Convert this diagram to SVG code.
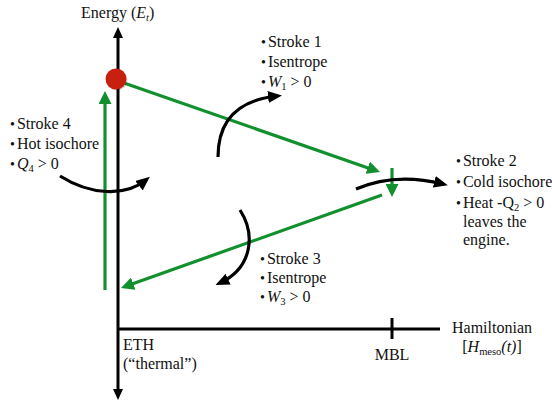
<svg xmlns="http://www.w3.org/2000/svg" width="552" height="405" viewBox="0 0 552 405">
<style>
text{font-family:"Liberation Serif","Times New Roman",serif;font-size:16px;fill:#111}
.ax{stroke:#000;stroke-width:3;fill:none}
.cv{stroke:#000;stroke-width:3.2;fill:none;marker-end:url(#ab)}
.gr{stroke:#12902e;stroke-width:3.2;fill:none;marker-end:url(#ag)}
.i{font-style:italic}
.s{font-size:10.5px}
.b{font-size:14px}
</style>
<defs>
<marker id="ab" markerUnits="userSpaceOnUse" markerWidth="14" markerHeight="12" refX="9" refY="6" orient="auto"><path d="M0,0 L14,6 L0,12 z" fill="#000"/></marker>
<marker id="aa" markerUnits="userSpaceOnUse" markerWidth="11" markerHeight="10" refX="6" refY="5" orient="auto-start-reverse"><path d="M0,0 L11,5 L0,10 z" fill="#000"/></marker>
<marker id="ag" markerUnits="userSpaceOnUse" markerWidth="13" markerHeight="13" refX="8" refY="6.5" orient="auto"><path d="M0,0 L13,6.5 L0,13 z" fill="#12902e"/></marker>
</defs>
<g id="axes">
<path class="ax" d="M118,32 L118,395" marker-start="url(#aa)" marker-end="url(#aa)"/>
<path class="ax" d="M118,329 L440,329"/>
<path class="ax" d="M392,318 L392,339"/>
</g>
<g id="connectors">
<path class="gr" d="M124,83 L375.3,170.4"/>
<path class="gr" d="M382,195 L125.7,286.3"/>
<path class="gr" d="M105,290 L105,96"/>
<path class="gr" d="M392,168 L392,192"/>
<path class="cv" d="M218,157 C218,118 240,100 277,96"/>
<path class="cv" d="M60,176 C90,195 125,197 146,180"/>
<path class="cv" d="M356,189 Q395,172 443,184"/>
<path class="cv" d="M240,210 C256,235 252,268 220,283"/>
</g>
<g id="state">
<circle cx="117" cy="80" r="10.5" fill="#000" opacity="0.15"/>
<circle cx="116" cy="79" r="10.5" fill="#c8200e"/>
</g>
<g id="labels">
<text x="81" y="18">Energy (<tspan class="i">E</tspan><tspan class="i s" dy="3">t</tspan><tspan dy="-3">)</tspan></text>
<g id="stroke1">
<text x="261" y="47"><tspan class="b">•</tspan><tspan dx="2">Stroke 1</tspan></text>
<text x="261" y="67"><tspan class="b">•</tspan><tspan dx="2">Isentrope</tspan></text>
<text x="261" y="87"><tspan class="b">•</tspan><tspan dx="2" class="i">W</tspan><tspan class="s" dy="3">1</tspan><tspan dy="-3"> &gt; 0</tspan></text>
</g>
<g id="stroke4">
<text x="10" y="129"><tspan class="b">•</tspan><tspan dx="2">Stroke 4</tspan></text>
<text x="10" y="149"><tspan class="b">•</tspan><tspan dx="2">Hot isochore</tspan></text>
<text x="10" y="169"><tspan class="b">•</tspan><tspan dx="2" class="i">Q</tspan><tspan class="s" dy="3">4</tspan><tspan dy="-3"> &gt; 0</tspan></text>
</g>
<g id="stroke2">
<text x="456" y="166"><tspan class="b">•</tspan><tspan dx="2">Stroke 2</tspan></text>
<text x="456" y="187"><tspan class="b">•</tspan><tspan dx="2">Cold isochore</tspan></text>
<text x="456" y="208"><tspan class="b">•</tspan><tspan dx="2">Heat -Q</tspan><tspan class="s" dy="3">2</tspan><tspan dy="-3"> &gt; 0</tspan></text>
<text x="463" y="227">leaves the</text>
<text x="463" y="245">engine.</text>
</g>
<g id="stroke3">
<text x="260" y="264"><tspan class="b">•</tspan><tspan dx="2">Stroke 3</tspan></text>
<text x="260" y="283"><tspan class="b">•</tspan><tspan dx="2">Isentrope</tspan></text>
<text x="260" y="302"><tspan class="b">•</tspan><tspan dx="2" class="i">W</tspan><tspan class="s" dy="3">3</tspan><tspan dy="-3"> &gt; 0</tspan></text>
</g>
<text x="123" y="350">ETH</text>
<text x="123" y="369">(“thermal”)</text>
<text x="392" y="360" text-anchor="middle">MBL</text>
<text x="492" y="333" text-anchor="middle">Hamiltonian</text>
<text x="492" y="352" text-anchor="middle">[<tspan class="i">H</tspan><tspan class="s" dy="3">meso</tspan><tspan class="i" dy="-3">(t)</tspan>]</text>
</g>
</svg>
